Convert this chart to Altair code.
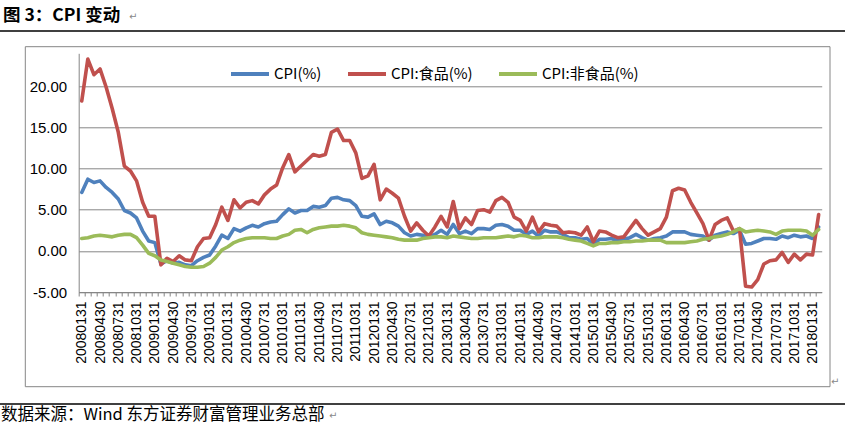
import json
import altair as alt
import pandas as pd

# ---------------- data ----------------
dates = pd.date_range("2008-01-31", periods=122, freq="ME").strftime("%Y%m%d").tolist()

cpi = [7.1, 8.7, 8.3, 8.5, 7.7, 7.1, 6.3, 4.9, 4.6, 4.0, 2.4, 1.2,
       1.0, -1.6, -1.2, -1.5, -1.4, -1.7, -1.8, -1.2, -0.8, -0.5, 0.6, 1.9,
       1.5, 2.7, 2.4, 2.8, 3.1, 2.9, 3.3, 3.5, 3.6, 4.4, 5.1, 4.6,
       4.9, 4.9, 5.4, 5.3, 5.5, 6.4, 6.5, 6.2, 6.1, 5.5, 4.2, 4.1,
       4.5, 3.2, 3.6, 3.4, 3.0, 2.2, 1.8, 2.0, 1.9, 1.7, 2.0, 2.5,
       2.0, 3.2, 2.1, 2.4, 2.1, 2.7, 2.7, 2.6, 3.1, 3.2, 3.0, 2.5,
       2.5, 2.0, 2.4, 1.8, 2.5, 2.3, 2.3, 2.0, 1.6, 1.6, 1.4, 1.5,
       0.8, 1.4, 1.4, 1.5, 1.2, 1.4, 1.6, 2.0, 1.6, 1.3, 1.5, 1.6,
       1.8, 2.3, 2.3, 2.3, 2.0, 1.9, 1.8, 1.3, 1.9, 2.1, 2.3, 2.1,
       2.5, 0.8, 0.9, 1.2, 1.5, 1.5, 1.4, 1.8, 1.6, 1.9, 1.7, 1.8,
       1.5, 2.9]

food = [18.2, 23.3, 21.4, 22.1, 19.9, 17.3, 14.4, 10.3, 9.7, 8.5, 5.9, 4.2,
        4.2, -1.7, -0.9, -1.3, -0.6, -1.1, -1.2, 0.5, 1.5, 1.6, 3.2, 5.3,
        3.7, 6.2, 5.2, 5.9, 6.1, 5.7, 6.8, 7.5, 8.0, 10.1, 11.7, 9.6,
        10.3, 11.0, 11.7, 11.5, 11.7, 14.4, 14.8, 13.4, 13.4, 11.9, 8.8, 9.1,
        10.5, 6.2, 7.5, 7.0, 6.4, 4.2, 2.4, 3.4, 2.5, 1.8, 2.9, 4.2,
        2.9, 6.0, 2.7, 4.0, 3.2, 4.9, 5.0, 4.7, 6.1, 6.5, 5.9, 4.1,
        3.7, 2.4, 4.1, 2.3, 3.3, 3.1, 3.0, 2.2, 2.3, 2.2, 1.9, 2.9,
        1.1, 2.4, 2.3, 1.9, 1.6, 1.7, 2.7, 3.7, 2.7, 1.9, 2.3, 2.7,
        4.1, 7.3, 7.6, 7.4, 5.9, 4.6, 3.3, 1.3, 3.2, 3.7, 4.0, 2.4,
        2.7, -4.3, -4.4, -3.5, -1.6, -1.2, -1.1, -0.2, -1.4, -0.4, -1.1, -0.4,
        -0.5, 4.4]

nonfood = [1.5, 1.6, 1.8, 1.9, 1.8, 1.7, 1.9, 2.0, 2.0, 1.6, 0.7, -0.3,
           -0.6, -1.1, -1.3, -1.5, -1.7, -1.9, -2.0, -2.0, -1.9, -1.5, -0.8, 0.1,
           0.5, 1.0, 1.3, 1.5, 1.6, 1.6, 1.6, 1.5, 1.5, 1.8, 2.0, 2.5,
           2.6, 2.2, 2.6, 2.8, 2.9, 3.0, 3.0, 3.1, 3.0, 2.8, 2.2, 2.0,
           1.9, 1.8, 1.7, 1.6, 1.4, 1.3, 1.3, 1.3, 1.5, 1.6, 1.7, 1.7,
           1.6, 1.8, 1.7, 1.6, 1.5, 1.5, 1.6, 1.6, 1.6, 1.7, 1.8, 1.7,
           1.9, 1.8, 1.6, 1.6, 1.7, 1.7, 1.7, 1.6, 1.4, 1.3, 1.2, 0.9,
           0.6, 0.9, 0.9, 1.0, 1.0, 1.1, 1.1, 1.2, 1.2, 1.3, 1.3, 1.3,
           1.0, 1.0, 1.0, 1.0, 1.1, 1.2, 1.4, 1.5, 1.7, 1.8, 2.0, 2.3,
           2.7, 2.3, 2.4, 2.5, 2.4, 2.3, 2.0, 2.4, 2.5, 2.5, 2.5, 2.4,
           1.9, 2.6]

series_names = ["CPI(%)", "CPI:食品(%)", "CPI:非食品(%)"]
series_colors = ["#4F81BD", "#C0504D", "#9BBB59"]
y_ticks = [-5, 0, 5, 10, 15, 20]

title_text = "图 3：CPI 变动"
source_text = "数据来源：Wind 东方证券财富管理业务总部"
para_mark = "↵"

rows = []
for name, vals in zip(series_names, [cpi, food, nonfood]):
    for i, v in enumerate(vals):
        rows.append({"i": i, "date": dates[i], "series": name, "value": v})
df = pd.DataFrame(rows)

# ---------------- layout ----------------
PL, PT = 78.7, 53.3
W, H = 743, 238.7
PR = 845 - PL - W
PB = 429 - PT - H
GRID = "#868686"

date_js = json.dumps(dates, ensure_ascii=False)
x_label_expr = f"(datum.value % 3 == 0 && datum.value < {len(dates)}) ? {date_js}[datum.value] : ''"

step = W / 122.0

lines = alt.Chart(df).mark_line(strokeWidth=3.6, strokeJoin="round", strokeCap="round").encode(
    x=alt.X("i:Q",
            scale=alt.Scale(domain=[-0.5, 121.5], nice=False, zero=False),
            axis=alt.Axis(values=list(range(0, 123)), labelExpr=x_label_expr,
                          labelAngle=270, labelOverlap=False, labelFlush=False, labelBound=False,
                          labelFont="Liberation Sans", labelFontSize=14, labelColor="black",
                          labelPadding=5, tickSize=4, tickColor=GRID, domainColor=GRID,
                          tickOffset=-step / 2, labelOffset=step / 2,
                          grid=False, title=None)),
    y=alt.Y("value:Q",
            scale=alt.Scale(domain=[-5, 24], nice=False, zero=False),
            axis=alt.Axis(values=y_ticks,
                          labelExpr="replace(format(datum.value, '.2f'), '\u2212', '-')",
                          labelFont="Liberation Sans", labelFontSize=15, labelColor="black",
                          labelPadding=12, ticks=False, domainColor=GRID,
                          grid=True, gridColor=GRID, gridWidth=1, title=None)),
    color=alt.Color("series:N",
                    scale=alt.Scale(domain=series_names, range=series_colors),
                    legend=alt.Legend(orient="none", legendX=150.3, legendY=-0.3,
                                      direction="horizontal", title=None,
                                      symbolType="stroke", symbolSize=1444, symbolStrokeWidth=4,
                                      labelFont="Noto Sans CJK SC", labelFontSize=15,
                                      labelColor="black", labelOffset=3, columnPadding=18,
                                      padding=0, labelLimit=300)),
    detail="series:N",
)

one = pd.DataFrame({"t": [0]})

frame = alt.Chart(one).mark_rect(fillOpacity=0, stroke=GRID, strokeWidth=1).encode(
    x=alt.value(25.3 - PL), x2=alt.value(830 - PL),
    y=alt.value(46.7 - PT), y2=alt.value(386.7 - PT))

top_rule = alt.Chart(one).mark_rule(color="black", strokeWidth=1.3).encode(
    x=alt.value(-PL), x2=alt.value(845 - PL), y=alt.value(31 - PT))
bottom_rule = alt.Chart(one).mark_rule(color="black", strokeWidth=1.3).encode(
    x=alt.value(-PL), x2=alt.value(845 - PL), y=alt.value(404 - PT))

title = alt.Chart(pd.DataFrame({"t": [title_text]})).mark_text(
    font="Noto Sans CJK SC", fontSize=17.5, fontWeight="bold", color="black",
    align="left", baseline="alphabetic").encode(
    text="t:N", x=alt.value(3 - PL), y=alt.value(21 - PT))

source = alt.Chart(pd.DataFrame({"t": [source_text]})).mark_text(
    font="Noto Sans CJK SC", fontSize=16.5, color="black",
    align="left", baseline="alphabetic").encode(
    text="t:N", x=alt.value(1 - PL), y=alt.value(420 - PT))

marks_df = pd.DataFrame({"t": [para_mark] * 3,
                         "px": [129 - PL, 329 - PL, 831 - PL],
                         "py": [20 - PT, 419 - PT, 385 - PT]})
paras = alt.Chart(marks_df).mark_text(
    font="DejaVu Sans", fontSize=10, color="#888888", align="left", baseline="alphabetic").encode(
    text="t:N", x=alt.X("px:Q", scale=None), y=alt.Y("py:Q", scale=None))

chart = alt.layer(frame, top_rule, bottom_rule, lines, title, source, paras).properties(
    width=W, height=H,
    padding={"left": PL, "top": PT, "right": PR, "bottom": PB},
    autosize=alt.AutoSizeParams(type="none"),
    background="white",
).configure_view(strokeWidth=0)

chart.save("out.html", embed_options={"renderer": "svg", "actions": False})
